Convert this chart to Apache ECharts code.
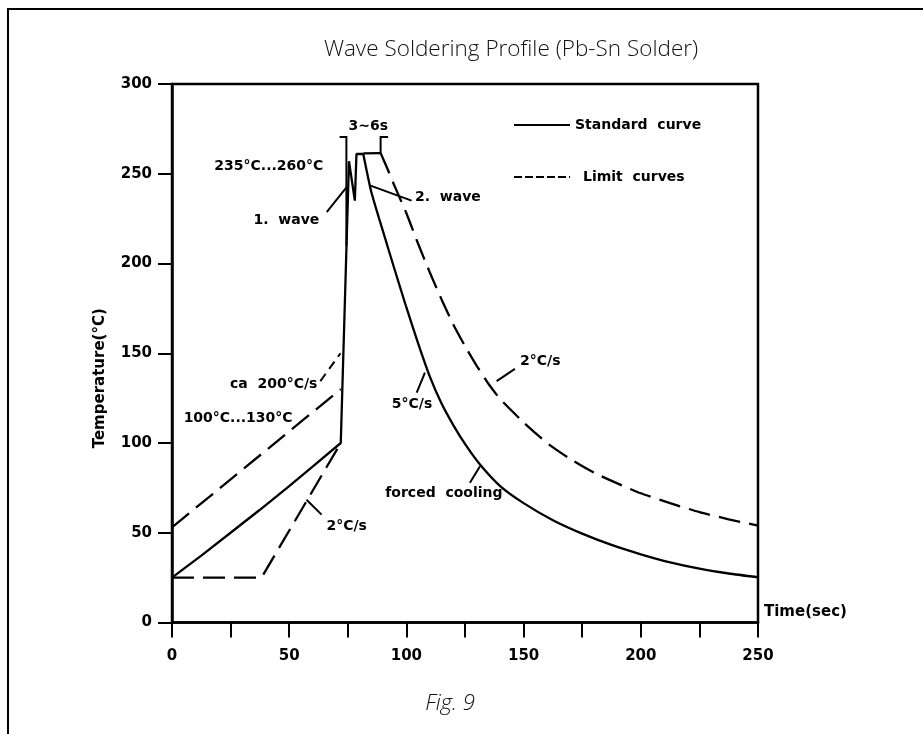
<!DOCTYPE html>
<html><head><meta charset="utf-8">
<script src="https://cdn.jsdelivr.net/npm/echarts@6/dist/echarts.min.js"></script>
<style>html,body{margin:0;padding:0;background:#fff}#c{width:923px;height:734px}</style>
</head><body><div id="c"></div>
<script>
// ---- data (time in s, temperature in °C) ----
const xTickValues = [0, 25, 50, 75, 100, 125, 150, 175, 200, 225, 250];
const xLabelValues = [0, 50, 100, 150, 200, 250];
const yTickValues = [0, 50, 100, 150, 200, 250, 300];

const standardHeating = [
  [0,25],[12.5,37.3],[25,50],[37.5,62.8],[50,76],[61,88],[72,100],
  [75.5,257],[78,235],[78.7,261],[81.6,261]
];
const standardCooling = [
  [81.6,261],[85,240],[90,218],[95,196.5],[100,175.5],[105,155.5],[110,137],[115,122],
  [120,110],[125,99.5],[131.4,88],[140,76],[150,66.5],[162.5,57],[175,49.5],
  [187.5,43.2],[200,38],[212.5,33.5],[225,30],[237.5,27.3],[250,25.2]
];
const limitLower = [[0,25],[38.2,25],[72,100]];
const limitUpperPreheat = [[0,53],[72,130]];
const limitUpperTop = [[81.6,261.3],[89,261.5]];
const limitUpperCooling = [
  [89,261.5],[92,252.5],[95,243],[100,228],[105,211],[110,195],[115,180],
  [120,166],[125,154],[130,143],[135,133],[140,124.5],[150,111.5],[160,100],[170,91],
  [180,83.5],[190,77.5],[200,72],[212.5,66.5],[225,61.5],[237.5,57.5],[250,54]
];

const annotationTexts = [
  {text:'3~6s', at:[83.7,276.6]},
  {text:'235°C...260°C', at:[41.3,254]},
  {text:'1.  wave', at:[48.8,224]},
  {text:'2.  wave', at:[117.7,237]},
  {text:'ca  200°C/s', at:[43.4,132.7]},
  {text:'100°C...130°C', at:[28.2,114]},
  {text:'5°C/s', at:[102.4,121.5]},
  {text:'forced  cooling', at:[116,71.8]},
  {text:'2°C/s', at:[157.1,145.5]},
  {text:'2°C/s', at:[74.5,53.5]}
];
const leaderLines = [
  {from:[66,228.6], to:[74.5,242.6]},
  {from:[84.4,243.5], to:[102.2,235]},
  {from:[104.4,128], to:[107.9,139.2]},
  {from:[127.1,77.8], to:[131.4,87]},
  {from:[138.5,134.5], to:[146.3,141.3]},
  {from:[57.4,68.4], to:[63.8,60.1]},
  {from:[63.3,134.5], to:[71.9,150], dashed:true}
];
const bracketLines = [
  [[74.4,271],[74.4,210]], [[71.5,270.5],[74.4,270.5]],
  [[89,271],[89,261.5]], [[89,270.5],[92.2,270.5]]
];

const chart = echarts.init(document.getElementById('c'), null, {renderer:'canvas'});
const BLACK = '#000';
const axisFont = {color:BLACK, fontFamily:'DejaVu Sans', fontWeight:'bold', fontSize:15};
const annFont = {color:BLACK, fontFamily:'DejaVu Sans', fontWeight:'bold', fontSize:14};
const dash = [22, 9];

function curve(name, data, dashed, smooth) {
  return {name, type:'line', data, symbol:'none', z: dashed ? 4 : 5, smooth: smooth || false,
    lineStyle:{color:BLACK, width:2.3, type: dashed ? dash : 'solid'}, itemStyle:{color:BLACK}};
}
const series = [
  curve('Standard  curve', standardHeating, false, false),
  curve('Standard  curve', standardCooling, false, 0.2),
  curve('Limit  curves', limitLower, true, false),
  curve('Limit  curves', limitUpperPreheat, true, false),
  curve('Limit  curves', limitUpperTop, false, false),
  curve('Limit  curves', limitUpperCooling, true, 0.2)
];
leaderLines.forEach(l => series.push({type:'line', silent:true, symbol:'none', z:3,
  data:[l.from, l.to], lineStyle:{color:BLACK, width:2, type: l.dashed ? [9,6] : 'solid'}}));
bracketLines.forEach(b => series.push({type:'line', silent:true, symbol:'none', z:3,
  data:b, lineStyle:{color:BLACK, width:2}}));
series.push({type:'scatter', silent:true, symbolSize:0, z:6,
  itemStyle:{opacity:1, color:BLACK},
  data: annotationTexts.map(a => ({value:a.at, label:{show:true, position:'inside',
    formatter:a.text, opacity:1, ...annFont}}))});

chart.setOption({
  animation:false,
  backgroundColor:'#fff',
  grid:{left:172, right:165, top:84, bottom:111.5, show:true, borderColor:BLACK, borderWidth:2.5, backgroundColor:'transparent'},
  legend:{
    left:508, top:113, orient:'vertical', itemWidth:56, itemHeight:14, itemGap:38,
    itemStyle:{opacity:0},
    data:[{name:'Standard  curve', textStyle:{padding:[0,0,0,0]}},
          {name:'Limit  curves', lineStyle:{type:[8,3]}, textStyle:{padding:[0,0,0,8]}}],
    textStyle:{...annFont}, selectedMode:false
  },
  xAxis:{type:'value', min:0, max:250, interval:25,
    axisLine:{lineStyle:{color:BLACK, width:2.5}},
    axisTick:{length:15, lineStyle:{color:BLACK, width:2}},
    splitLine:{show:false},
    axisLabel:{...axisFont, margin:26, formatter: v => xLabelValues.includes(v) ? String(v) : ''},
    name:'Time(sec)', nameLocation:'end', nameGap:6,
    nameTextStyle:{...axisFont, verticalAlign:'bottom', align:'left', padding:[0,0,3,0]}
  },
  yAxis:{type:'value', min:0, max:300, interval:50,
    axisLine:{lineStyle:{color:BLACK, width:2.5}},
    axisTick:{length:14, lineStyle:{color:BLACK, width:2}},
    splitLine:{show:false},
    axisLabel:{...axisFont, margin:20, formatter: v => yTickValues.includes(v) ? String(v) : ''},
    name:'Temperature(°C)', nameLocation:'middle', nameRotate:90, nameGap:64,
    nameTextStyle:{...axisFont, padding:[0,50,0,0]}
  },
  graphic:[
    {type:'line', shape:{x1:7, y1:9, x2:923, y2:9}, style:{stroke:BLACK, lineWidth:2}},
    {type:'line', shape:{x1:8, y1:8, x2:8, y2:734}, style:{stroke:BLACK, lineWidth:2}},
    {type:'text', x:511, y:50, style:{text:'Wave Soldering Profile (Pb-Sn Solder)', fill:'#111',
      font:'300 22.5px "Open Sans"', align:'center', verticalAlign:'middle'}},
    {type:'text', x:450, y:704, style:{text:'Fig. 9', fill:'#111',
      font:'italic 300 22px "Open Sans"', align:'center', verticalAlign:'middle'}}
  ],
  series:series
});
</script></body></html>
